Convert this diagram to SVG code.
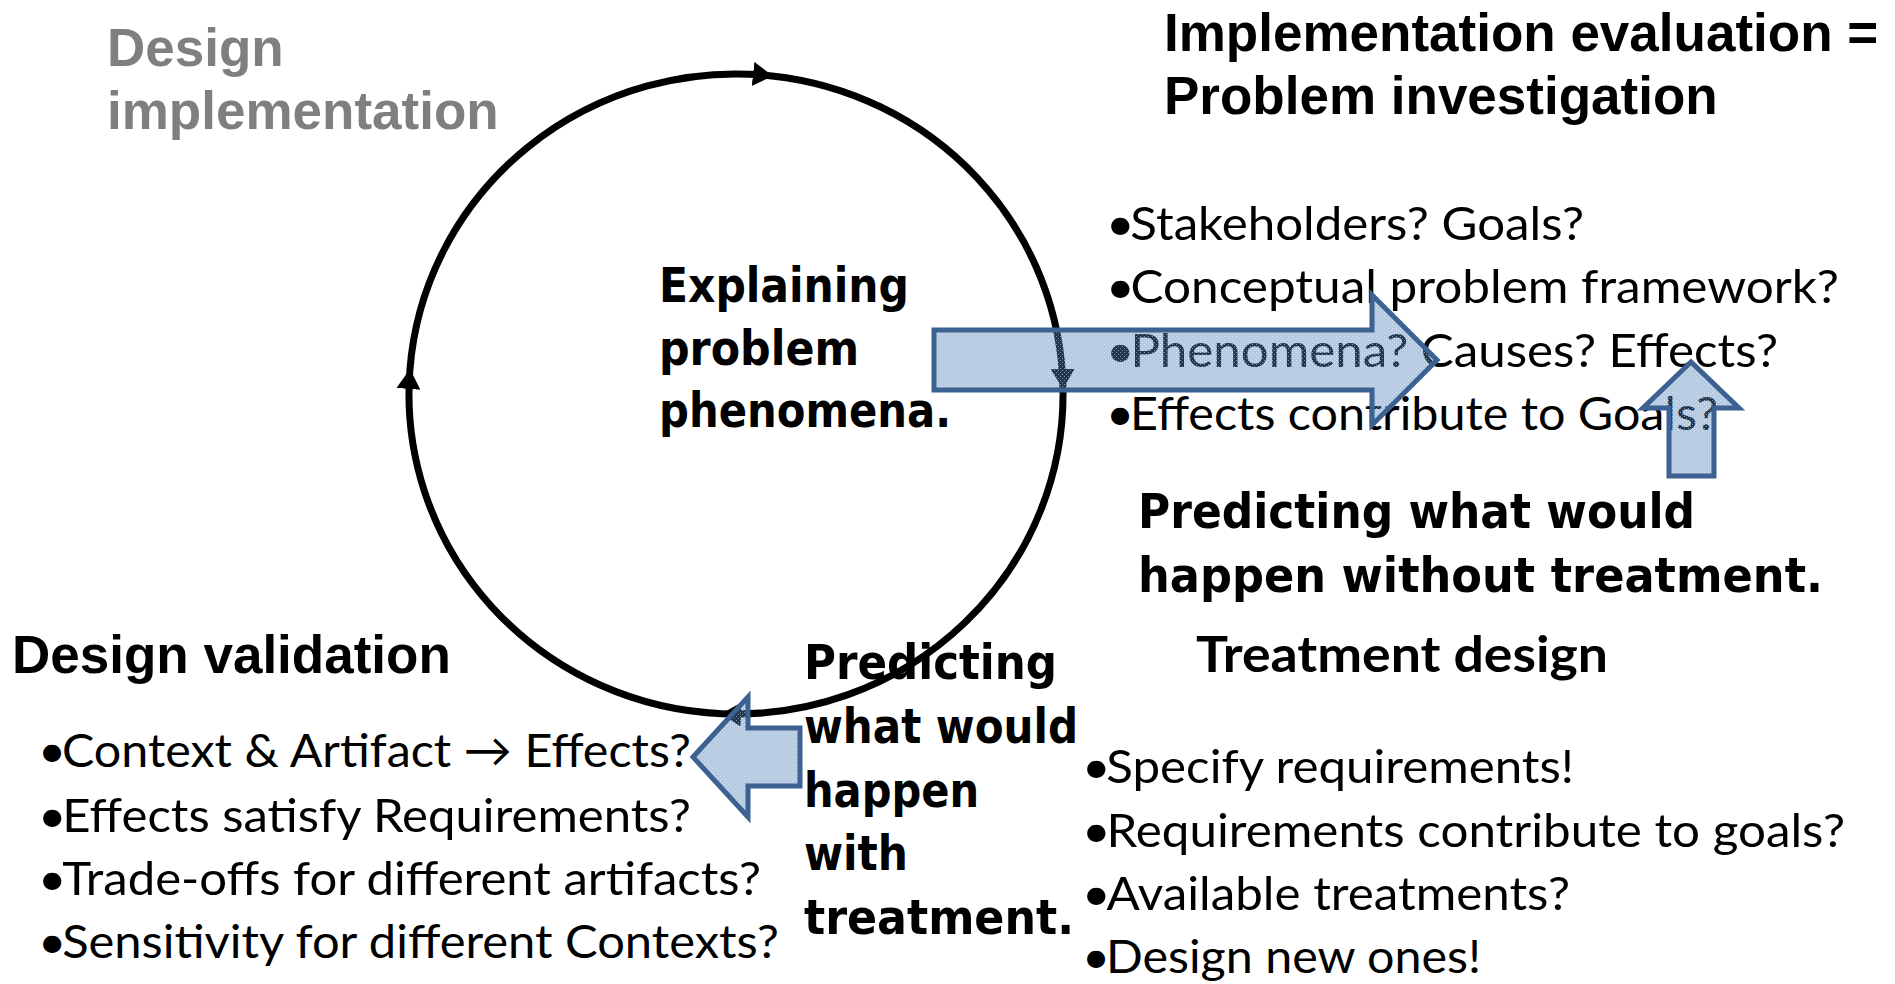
<svg xmlns="http://www.w3.org/2000/svg" width="1895" height="984" viewBox="0 0 1895 984">
<style>
.h{font-family:"Liberation Sans",Arial,sans-serif;font-weight:bold;font-size:53px;fill:#000}
.gray{fill:#7f7f7f}
.c{font-family:"DejaVu Sans",sans-serif;font-weight:bold;font-stretch:condensed;font-size:48px;fill:#000}
.b{font-family:Lato,"Open Sans",sans-serif;font-size:47px;fill:#000}
.bb{font-family:Lato,"Open Sans",sans-serif;font-weight:bold;font-size:50px;fill:#000}
.blk{fill:url(#tex);stroke:#3D6190;stroke-width:5;stroke-linejoin:miter}
.cyc{fill:none;stroke:#000;stroke-width:7}
</style>
<defs>
<marker id="ah" viewBox="0 0 20 24" refX="19" refY="12" markerWidth="20" markerHeight="24" markerUnits="userSpaceOnUse" orient="auto">
<path d="M0,0 L20,12 L0,24 z" fill="#000"/>
</marker>
<pattern id="tex" width="4" height="4" patternUnits="userSpaceOnUse">
<rect width="4" height="4" fill="#4F81BD" fill-opacity="0.42"/>
<rect x="0" y="0" width="1" height="1" fill="#fff" fill-opacity="0.45"/>
<rect x="2" y="2" width="1" height="1" fill="#fff" fill-opacity="0.45"/>
</pattern>
</defs>
<rect width="1895" height="984" fill="#fff"/>

<g id="design-implementation">
<text class="h gray" x="107" y="66">Design</text>
<text class="h gray" x="107" y="129">implementation</text>
</g>

<g id="implementation-evaluation">
<text class="h" x="1164" y="51">Implementation evaluation =</text>
<text class="h" x="1164" y="114">Problem investigation</text>
</g>

<g id="explaining">
<text class="c" x="659" y="302" textLength="250" lengthAdjust="spacingAndGlyphs">Explaining</text>
<text class="c" x="659" y="365" textLength="200" lengthAdjust="spacingAndGlyphs">problem</text>
<text class="c" x="659" y="427" textLength="292" lengthAdjust="spacingAndGlyphs">phenomena.</text>
</g>

<g id="problem-questions">
<text class="b" x="1106" y="240" textLength="478" lengthAdjust="spacingAndGlyphs">•<tspan dx="-4">Stakeholders? Goals?</tspan></text>
<text class="b" x="1106" y="303" textLength="733" lengthAdjust="spacingAndGlyphs">•<tspan dx="-4">Conceptual problem framework?</tspan></text>
<text class="b" x="1106" y="367" textLength="672" lengthAdjust="spacingAndGlyphs">•<tspan dx="-4">Phenomena? Causes? Effects?</tspan></text>
<text class="b" x="1106" y="430" textLength="612" lengthAdjust="spacingAndGlyphs">•<tspan dx="-4">Effects contribute to Goals?</tspan></text>
</g>

<g id="predict-without">
<text class="c" x="1138" y="528" textLength="557" lengthAdjust="spacingAndGlyphs">Predicting what would</text>
<text class="c" x="1138" y="592" textLength="685" lengthAdjust="spacingAndGlyphs">happen without treatment.</text>
</g>

<g id="design-validation">
<text class="h" x="12" y="673">Design validation</text>
<text class="b" x="38" y="767" textLength="653" lengthAdjust="spacingAndGlyphs">•<tspan dx="-4">Context &amp; Artifact → Effects?</tspan></text>
<text class="b" x="38" y="832" textLength="653" lengthAdjust="spacingAndGlyphs">•<tspan dx="-4">Effects satisfy Requirements?</tspan></text>
<text class="b" x="38" y="895" textLength="723" lengthAdjust="spacingAndGlyphs">•<tspan dx="-4">Trade-offs for different artifacts?</tspan></text>
<text class="b" x="38" y="958" textLength="741" lengthAdjust="spacingAndGlyphs">•<tspan dx="-4">Sensitivity for different Contexts?</tspan></text>
</g>

<g id="predict-with">
<text class="c" x="804" y="679" textLength="253" lengthAdjust="spacingAndGlyphs">Predicting</text>
<text class="c" x="804" y="743" textLength="274" lengthAdjust="spacingAndGlyphs">what would</text>
<text class="c" x="804" y="807" textLength="175" lengthAdjust="spacingAndGlyphs">happen</text>
<text class="c" x="804" y="870" textLength="104" lengthAdjust="spacingAndGlyphs">with</text>
<text class="c" x="804" y="934" textLength="270" lengthAdjust="spacingAndGlyphs">treatment.</text>
</g>

<g id="treatment-design">
<text class="bb" x="1196" y="672" textLength="412" lengthAdjust="spacingAndGlyphs">Treatment design</text>
<text class="b" x="1082" y="783" textLength="492" lengthAdjust="spacingAndGlyphs">•<tspan dx="-4">Specify requirements!</tspan></text>
<text class="b" x="1082" y="847" textLength="763" lengthAdjust="spacingAndGlyphs">•<tspan dx="-4">Requirements contribute to goals?</tspan></text>
<text class="b" x="1082" y="910" textLength="488" lengthAdjust="spacingAndGlyphs">•<tspan dx="-4">Available treatments?</tspan></text>
<text class="b" x="1082" y="973" textLength="399" lengthAdjust="spacingAndGlyphs">•<tspan dx="-4">Design new ones!</tspan></text>
</g>

<g id="connectors">
<path id="cycle" class="cyc" marker-mid="url(#ah)" marker-end="url(#ah)" d="M409.9,370 A327,320 0 0 1 772,75.9 A327,320 0 0 1 1063,388 A327,320 0 0 1 722,713.7 A327,320 0 0 1 409.9,370"/>
<polygon id="arrow-explain" class="blk" points="934,330 1372,330 1372,295 1437,360 1372,425 1372,390 934,390"/>
<polygon id="arrow-without" class="blk" points="1669,476 1669,408 1643,408 1691,362 1739,408 1714,408 1714,476"/>
<polygon id="arrow-with" class="blk" points="693,757 748,697 748,728 800,728 800,786 748,786 748,817"/>
</g>
</svg>
